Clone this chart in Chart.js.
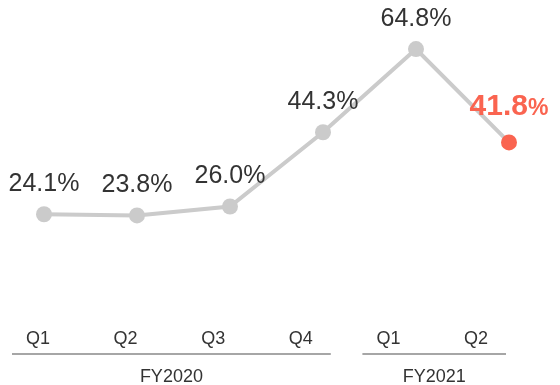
<!DOCTYPE html>
<html>
<head>
<meta charset="utf-8">
<script src="https://cdn.jsdelivr.net/npm/chart.js@4/dist/chart.umd.min.js"></script>
<style>
  html, body { margin: 0; padding: 0; background: #fff; }
  #wrap { width: 560px; height: 385px; position: relative; }
</style>
</head>
<body>
<div id="wrap"><canvas id="ratio-chart"></canvas></div>
<script>
// quarterly ratio, FY2020 Q1 .. FY2021 Q2
const quarters = ['Q1', 'Q2', 'Q3', 'Q4', 'Q1', 'Q2']
const ratio = [24.1, 23.8, 26.0, 44.3, 64.8, 41.8]
const fiscalYears = ['FY2020', 'FY2021']
const yearOfQuarter = [0, 0, 0, 0, 1, 1]

const gray = '#cbcbcb'
const accent = '#fa6450'
const textColor = '#333333'
const fontFamily = '"Liberation Sans", Arial, sans-serif'

const lastIdx = ratio.length - 1
const pointColors = ratio.map((v, i) => i === lastIdx ? accent : gray)

// value labels above each point, latest one highlighted
const valueLabels = {
    id: 'valueLabels',
    afterDatasetsDraw(chart) {
        const c = chart.ctx
        const pts = chart.getDatasetMeta(0).data
        c.save()
        c.textBaseline = 'middle'
        pts.forEach((p, i) => {
            const txt = ratio[i].toFixed(1)
            if (i === lastIdx) {
                c.font = 'bold 30px ' + fontFamily
                const w1 = c.measureText(txt).width
                c.font = 'bold 23px ' + fontFamily
                const w2 = c.measureText('%').width
                const left = p.x - (w1 + w2) / 2
                const y = p.y - 36
                c.fillStyle = accent
                c.textAlign = 'left'
                c.font = 'bold 30px ' + fontFamily
                c.fillText(txt, left, y)
                c.font = 'bold 23px ' + fontFamily
                c.fillText('%', left + w1, y + 2)
            } else {
                c.font = '25px ' + fontFamily
                c.fillStyle = textColor
                c.textAlign = 'center'
                c.fillText(txt + '%', p.x, p.y - 30)
            }
        })
        c.restore()
    }
}

// bottom axis: quarter names, a rule under each fiscal year and the year name
const fiscalAxis = {
    id: 'fiscalAxis',
    afterDraw(chart) {
        const c = chart.ctx
        const x0 = 38, colW = 87.6
        const qx = quarters.map((q, i) => x0 + i * colW)
        c.save()
        c.textAlign = 'center'
        c.textBaseline = 'middle'
        c.fillStyle = textColor
        c.font = '18px ' + fontFamily
        quarters.forEach((q, i) => c.fillText(q, qx[i], 339))

        fiscalYears.forEach((fy, k) => {
            const idx = yearOfQuarter.map((y, i) => y === k ? i : -1).filter(i => i >= 0)
            const from = qx[idx[0]] - 26
            const to = qx[idx[idx.length - 1]] + 30
            c.strokeStyle = '#a6a6a6'
            c.lineWidth = 2
            c.beginPath()
            c.moveTo(from, 354)
            c.lineTo(to, 354)
            c.stroke()
            c.fillStyle = textColor
            c.font = '18px ' + fontFamily
            c.fillText(fy, (from + to) / 2, 377)
        })
        c.restore()
    }
}

const ctx = document.getElementById('ratio-chart')

const ratioChart = new Chart(ctx, {
    type: 'line',
    data: {
        labels: quarters,
        datasets: [{
            data: ratio,
            borderColor: gray,
            borderWidth: 4,
            pointRadius: 8,
            pointHoverRadius: 8,
            pointBorderWidth: 0,
            pointBackgroundColor: pointColors,
            pointBorderColor: pointColors,
            tension: 0,
            clip: false
        }]
    },
    options: {
        responsive: true,
        maintainAspectRatio: false,
        animation: false,
        layout: { padding: { left: 44, right: 51, top: 28, bottom: 73 } },
        plugins: {
            legend: { display: false },
            tooltip: { enabled: false }
        },
        scales: {
            x: { display: false, offset: false },
            y: { display: false, min: 0, max: 70 }
        }
    },
    plugins: [valueLabels, fiscalAxis]
})
</script>
</body>
</html>
